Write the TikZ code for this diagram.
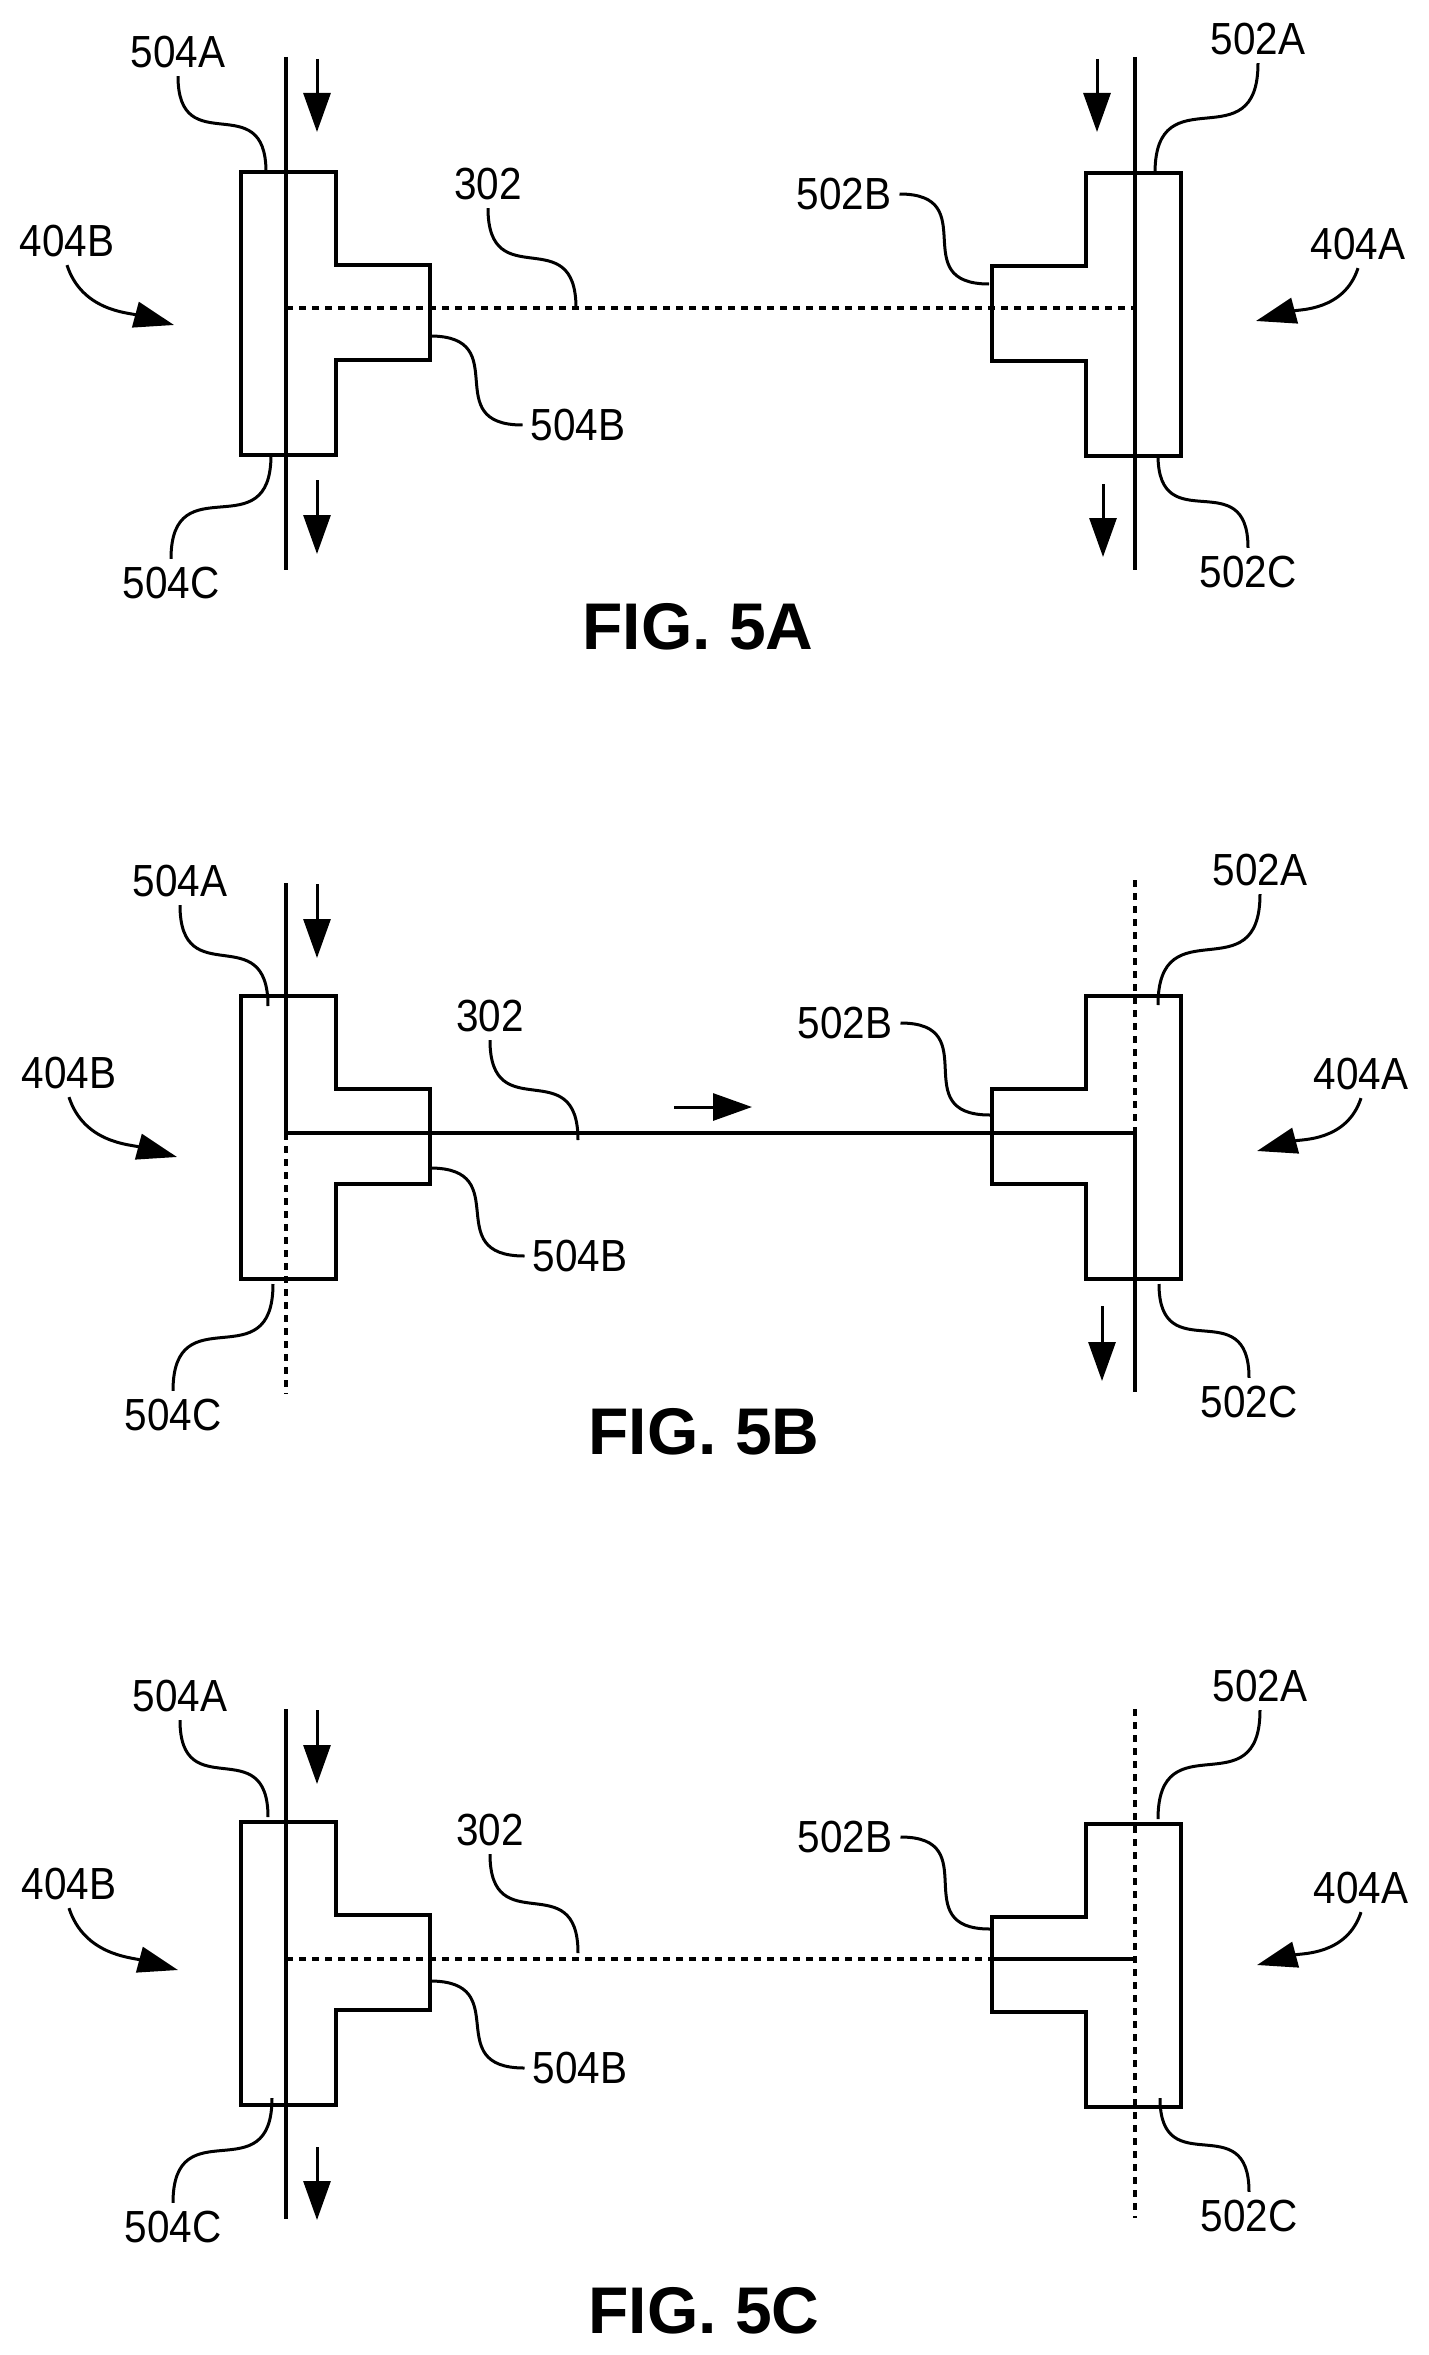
\documentclass[tikz,border=0pt]{standalone}
\usepackage{fontspec}
\usepackage{tikz}
\usetikzlibrary{arrows.meta}
\newfontfamily\lablefont[FakeStretch=0.9]{Liberation Sans}
\newfontfamily\capfont{Liberation Sans}
\tikzset{
	lab/.style={font=\lablefont\fontsize{45}{45}\selectfont,inner sep=8pt},
	figcap/.style={font=\capfont\bfseries\fontsize{66}{66}\selectfont,inner sep=0pt},
	wall/.style={line width=4pt,line join=miter},
	solidline/.style={line width=4pt},
	dashline/.style={line width=3.6pt,dash pattern=on 7pt off 6pt},
	leader/.style={line width=3pt,looseness=1.7},
	flow/.style={line width=3pt,-{Triangle[length=39pt,width=27pt]}},
	bentflow/.style={line width=3pt,-{Triangle[length=40pt,width=26pt]}},
	tee/.pic={\draw[wall] (0,0) -- (95,0) -- (95,93) -- (189,93) -- (189,188) -- (95,188) -- (95,283) -- (0,283) -- cycle;}
}
\begin{document}
\begin{tikzpicture}[x=1pt,y=-1pt]
	\useasboundingbox (0,0) rectangle (1428,2355);
	% FIG. 5A
	\pic at(241,172) {tee};
	\pic[xscale=-1] at(1181,173) {tee};
	\coordinate (atl) at(286,57); \coordinate (ajl) at(286,308); \coordinate (abl) at(286,570);
	\coordinate (atr) at(1135,57); \coordinate (ajr) at(1135,308); \coordinate (abr) at(1135,570);
	\draw[solidline] (atl) -- (abl);
	\draw[solidline] (atr) -- (abr);
	\draw[dashline] (ajl) -- (ajr);
	\coordinate (af1s) at(317,59); \coordinate (af1e) at(317,132);
	\coordinate (af2s) at(317,480); \coordinate (af2e) at(317,554);
	\coordinate (af3s) at(1097,59); \coordinate (af3e) at(1097,132);
	\coordinate (af4s) at(1103,484); \coordinate (af4e) at(1103,557);
	\draw[flow] (af1s) -- (af1e);
	\draw[flow] (af2s) -- (af2e);
	\draw[flow] (af3s) -- (af3e);
	\draw[flow] (af4s) -- (af4e);
	\node (a504A) at(178,52)[lab]{504A};
	\node (a404B) at(67,241)[lab]{404B};
	\node (a302) at(488,184)[lab]{302};
	\node (a504B) at(578,425)[lab]{504B};
	\node (a504C) at(171,583)[lab]{504C};
	\node (a502A) at(1258,39)[lab]{502A};
	\node (a502B) at(844,194)[lab]{502B};
	\node (a404A) at(1358,244)[lab]{404A};
	\node (a502C) at(1248,572)[lab]{502C};
	\node (acap) at(698,627)[figcap]{FIG. 5A};
	\coordinate (e504A) at(266,172); \coordinate (e302) at(576,308); \coordinate (e504B) at(430,336);
	\coordinate (e504C) at(271,455); \coordinate (e502A) at(1155,173); \coordinate (e502B) at(989,284);
	\coordinate (e502C) at(1158,455); \coordinate (t404B) at(174,325); \coordinate (t404A) at(1256,321);
	\draw[leader] (a504A.south) to[out=-90,in=90] (e504A);
	\draw[leader] (a302.south) to[out=-90,in=90] (e302);
	\draw[leader] (a504B.west) to[out=180,in=0] (e504B);
	\draw[leader] (a504C.north) to[out=90,in=-90] (e504C);
	\draw[leader] (a502A.south) to[out=-90,in=90] (e502A);
	\draw[leader] (a502B.east) to[out=0,in=180] (e502B);
	\draw[leader] (a502C.north) to[out=90,in=-90] (e502C);
	\draw[bentflow] (a404B.south) to[out=-72,in=165] (t404B);
	\draw[bentflow] (a404A.south) to[out=-108,in=15] (t404A);
	% FIG. 5B
	\begin{scope}[yshift=4pt]
	\pic at(241,1000) {tee};
	\pic[xscale=-1] at(1181,1000) {tee};
	\coordinate (btl) at(286,887); \coordinate (bjl) at(286,1137); \coordinate (bbl) at(286,1398);
	\coordinate (btr) at(1135,884); \coordinate (bjr) at(1135,1137); \coordinate (bbr) at(1135,1396);
	\draw[solidline] (btl) -- (bjl);
	\draw[dashline] (bjl) -- (bbl);
	\draw[dashline] (btr) -- (bjr);
	\draw[solidline] (bjr) -- (bbr);
	\draw[solidline] (bjl) -- (bjr);
	\coordinate (bf1s) at(317,888); \coordinate (bf1e) at(317,962);
	\coordinate (bf2s) at(1102,1310); \coordinate (bf2e) at(1102,1385);
	\coordinate (bf3s) at(674,1111); \coordinate (bf3e) at(752,1111);
	\draw[flow] (bf1s) -- (bf1e);
	\draw[flow] (bf2s) -- (bf2e);
	\draw[flow] (bf3s) -- (bf3e);
	\node (b504A) at(180,885)[lab]{504A};
	\node (b404B) at(69,1077)[lab]{404B};
	\node (b302) at(490,1020)[lab]{302};
	\node (b504B) at(580,1260)[lab]{504B};
	\node (b504C) at(173,1419)[lab]{504C};
	\node (b502A) at(1260,874)[lab]{502A};
	\node (b502B) at(845,1027)[lab]{502B};
	\node (b404A) at(1361,1078)[lab]{404A};
	\node (b502C) at(1249,1406)[lab]{502C};
	\node (bcap) at(704,1436)[figcap]{FIG. 5B};
	\coordinate (f504A) at(268,1010); \coordinate (f302) at(578,1144); \coordinate (f504B) at(430,1172);
	\coordinate (f504C) at(273,1288); \coordinate (f502A) at(1158,1009); \coordinate (f502B) at(990,1119);
	\coordinate (f502C) at(1159,1288); \coordinate (u404B) at(177,1161); \coordinate (u404A) at(1257,1155);
	\draw[leader] (b504A.south) to[out=-90,in=90] (f504A);
	\draw[leader] (b302.south) to[out=-90,in=90] (f302);
	\draw[leader] (b504B.west) to[out=180,in=0] (f504B);
	\draw[leader] (b504C.north) to[out=90,in=-90] (f504C);
	\draw[leader] (b502A.south) to[out=-90,in=90] (f502A);
	\draw[leader] (b502B.east) to[out=0,in=180] (f502B);
	\draw[leader] (b502C.north) to[out=90,in=-90] (f502C);
	\draw[bentflow] (b404B.south) to[out=-72,in=165] (u404B);
	\draw[bentflow] (b404A.south) to[out=-108,in=15] (u404A);
	\end{scope}
	% FIG. 5C
	\begin{scope}[yshift=7pt]
	\pic at(241,1829) {tee};
	\pic[xscale=-1] at(1181,1831) {tee};
	\coordinate (ctl) at(286,1716); \coordinate (cjl) at(286,1966); \coordinate (cbl) at(286,2226);
	\coordinate (ctr) at(1135,1716); \coordinate (cjr) at(1135,1966); \coordinate (cbr) at(1135,2225);
	\coordinate (cst) at(992,1966);
	\draw[solidline] (ctl) -- (cbl);
	\draw[dashline] (ctr) -- (cbr);
	\draw[dashline] (cjl) -- (cst);
	\draw[solidline] (cst) -- (cjr);
	\coordinate (cf1s) at(317,1717); \coordinate (cf1e) at(317,1791);
	\coordinate (cf2s) at(317,2154); \coordinate (cf2e) at(317,2227);
	\draw[flow] (cf1s) -- (cf1e);
	\draw[flow] (cf2s) -- (cf2e);
	\node (c504A) at(180,1703)[lab]{504A};
	\node (c404B) at(69,1891)[lab]{404B};
	\node (c302) at(490,1837)[lab]{302};
	\node (c504B) at(580,2075)[lab]{504B};
	\node (c504C) at(173,2234)[lab]{504C};
	\node (c502A) at(1260,1693)[lab]{502A};
	\node (c502B) at(845,1844)[lab]{502B};
	\node (c404A) at(1361,1895)[lab]{404A};
	\node (c502C) at(1249,2223)[lab]{502C};
	\node (ccap) at(704,2318)[figcap]{FIG. 5C};
	\coordinate (g504A) at(268,1824); \coordinate (g302) at(578,1960); \coordinate (g504B) at(430,1988);
	\coordinate (g504C) at(272,2105); \coordinate (g502A) at(1158,1826); \coordinate (g502B) at(990,1936);
	\coordinate (g502C) at(1160,2105); \coordinate (v404B) at(178,1977); \coordinate (v404A) at(1257,1972);
	\draw[leader] (c504A.south) to[out=-90,in=90] (g504A);
	\draw[leader] (c302.south) to[out=-90,in=90] (g302);
	\draw[leader] (c504B.west) to[out=180,in=0] (g504B);
	\draw[leader] (c504C.north) to[out=90,in=-90] (g504C);
	\draw[leader] (c502A.south) to[out=-90,in=90] (g502A);
	\draw[leader] (c502B.east) to[out=0,in=180] (g502B);
	\draw[leader] (c502C.north) to[out=90,in=-90] (g502C);
	\draw[bentflow] (c404B.south) to[out=-72,in=165] (v404B);
	\draw[bentflow] (c404A.south) to[out=-108,in=15] (v404A);
	\end{scope}
\end{tikzpicture}
\end{document}
